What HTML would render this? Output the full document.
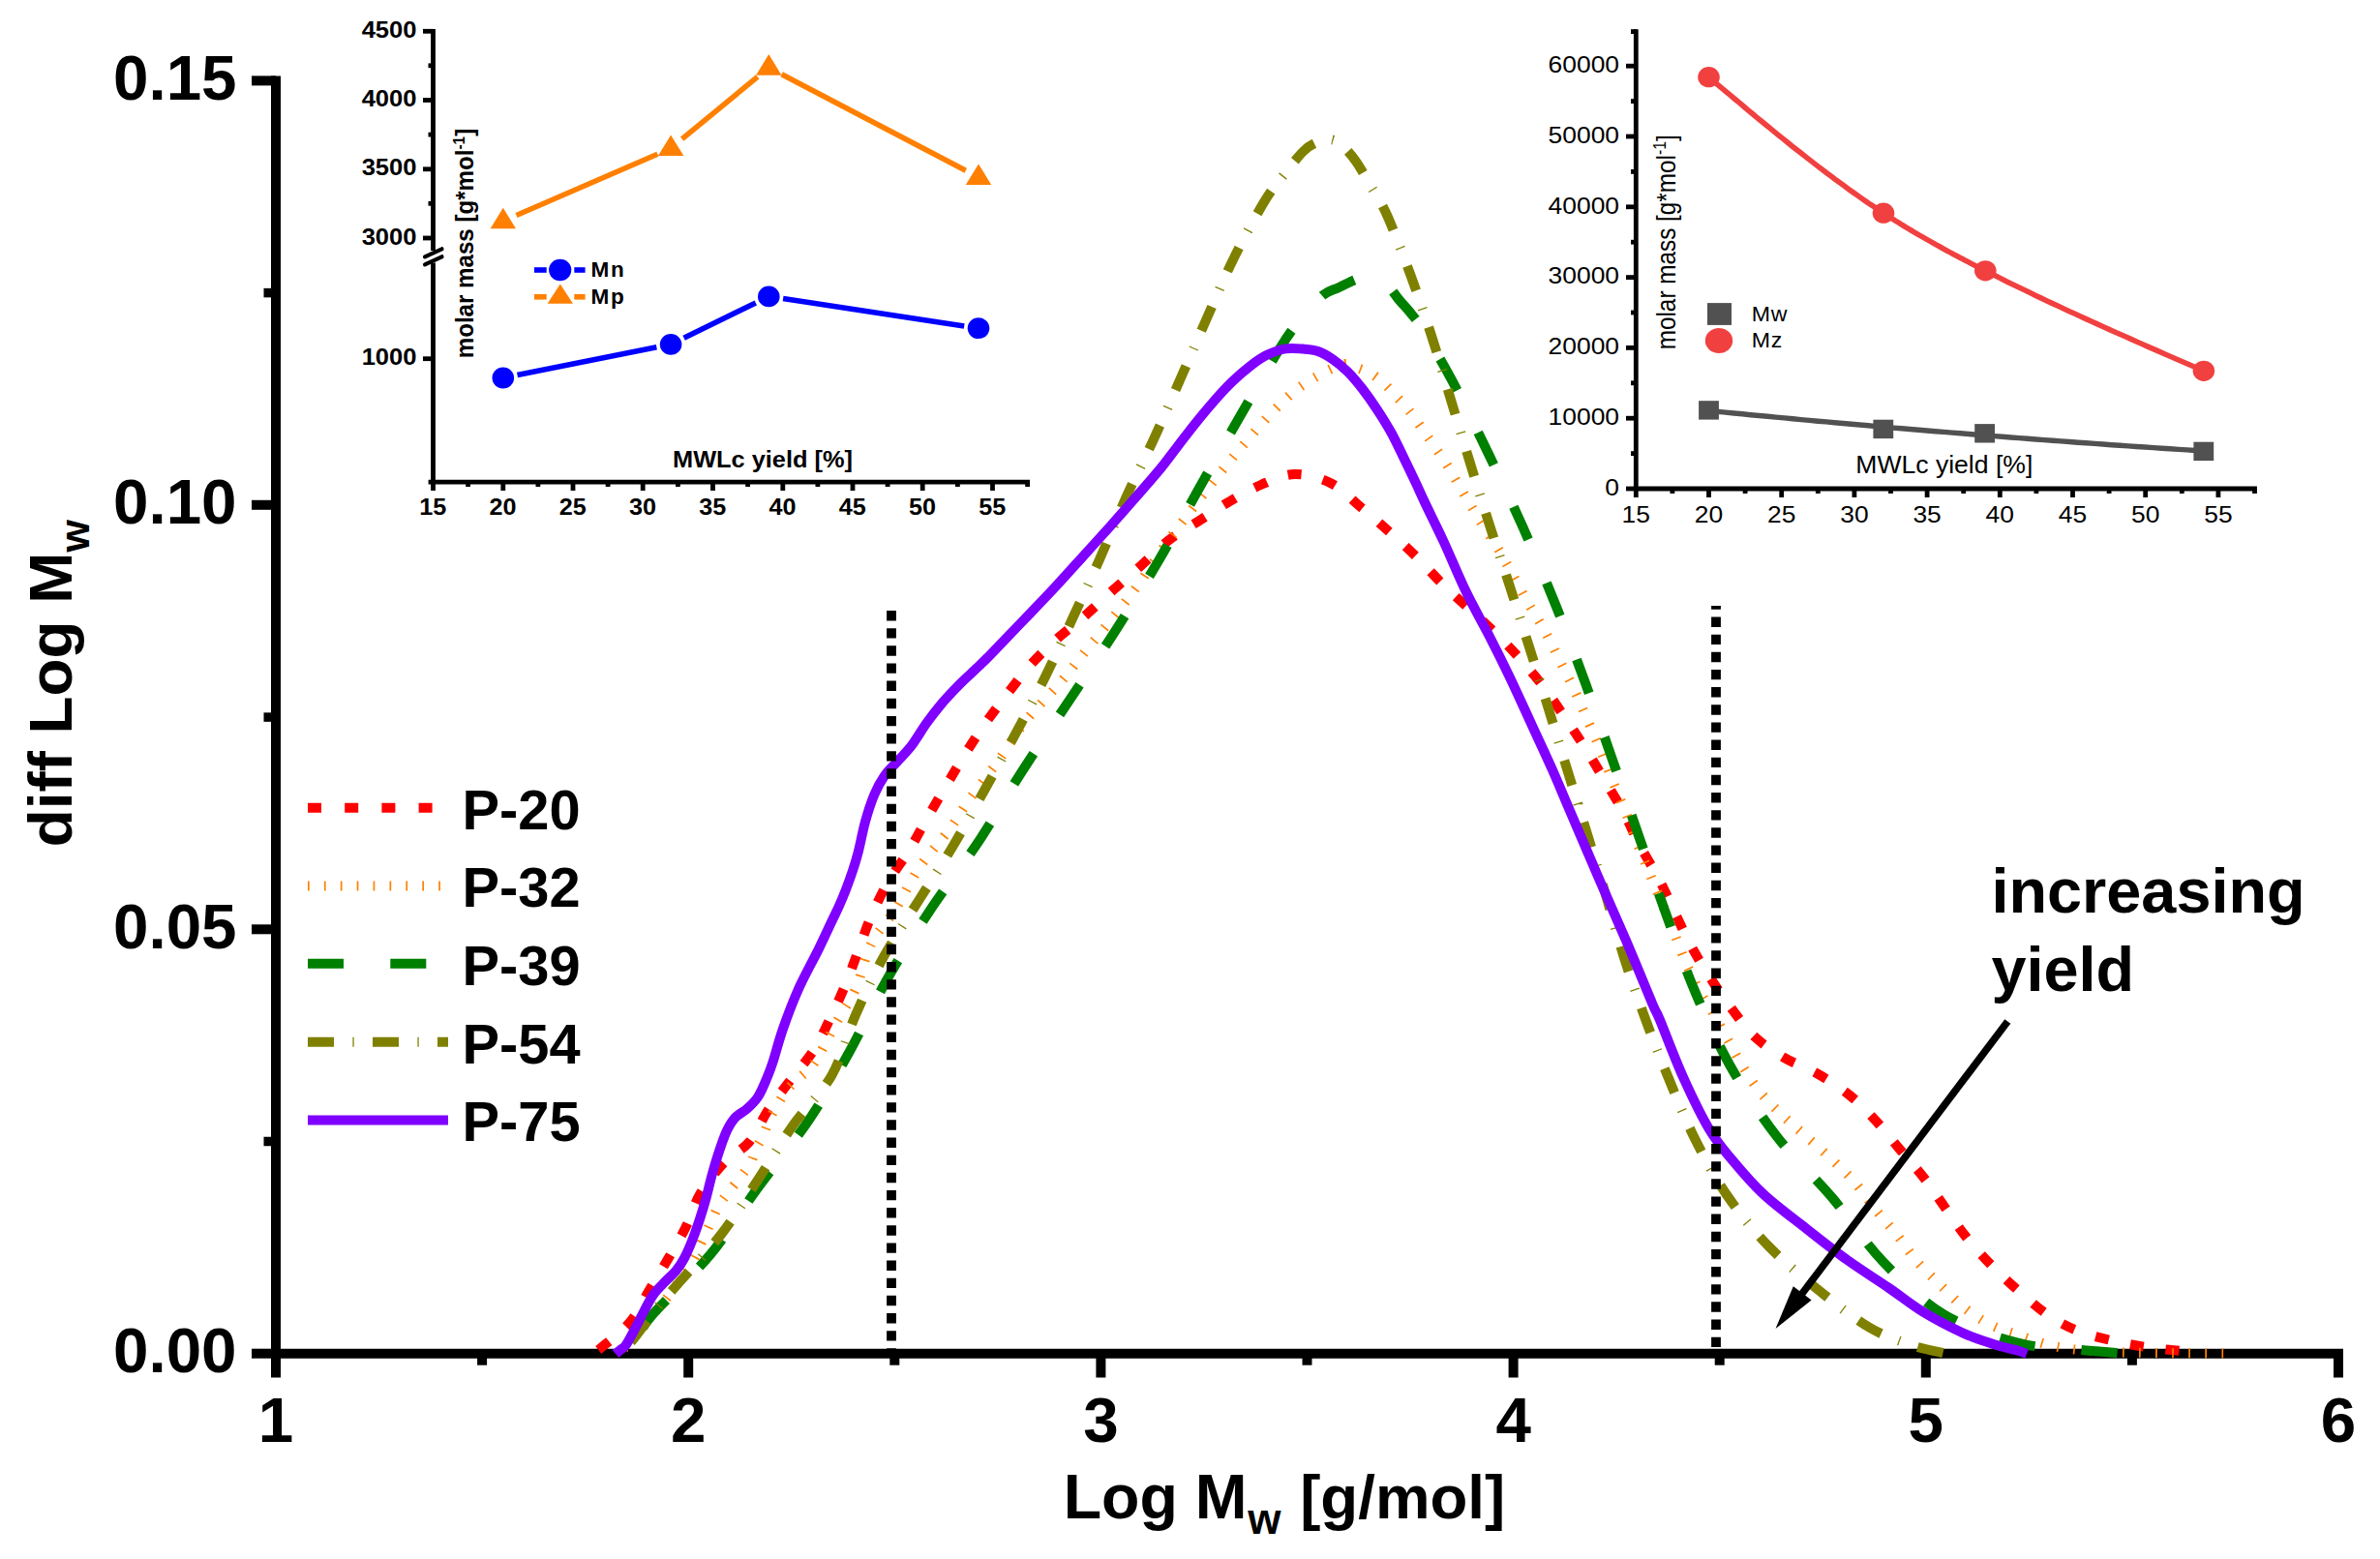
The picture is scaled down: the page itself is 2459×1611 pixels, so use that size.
<!DOCTYPE html>
<html lang="en">
<head>
<meta charset="utf-8">
<title>Molar mass distribution</title>
<style>
html,body{margin:0;padding:0;background:#fff;}
body{width:2459px;height:1611px;overflow:hidden;}
svg{display:block;}
</style>
</head>
<body>
<svg width="2459" height="1611" viewBox="0 0 2459 1611">
<rect width="2459" height="1611" fill="#fff"/>
<g id="main-axes" stroke="#000" fill="none" stroke-linecap="butt">
<line x1="285" y1="78.4" x2="285" y2="1403.7" stroke-width="10"/>
<line x1="280" y1="1398.7" x2="2421" y2="1398.7" stroke-width="10"/>
<line x1="260" y1="1398.7" x2="285" y2="1398.7" stroke-width="10"/>
<line x1="260" y1="960.3" x2="285" y2="960.3" stroke-width="10"/>
<line x1="260" y1="521.8" x2="285" y2="521.8" stroke-width="10"/>
<line x1="260" y1="83.4" x2="285" y2="83.4" stroke-width="10"/>
<line x1="272.5" y1="1179.5" x2="285" y2="1179.5" stroke-width="9.5"/>
<line x1="272.5" y1="741.1" x2="285" y2="741.1" stroke-width="9.5"/>
<line x1="272.5" y1="302.6" x2="285" y2="302.6" stroke-width="9.5"/>
<line x1="285" y1="1398.7" x2="285" y2="1423.5" stroke-width="10"/>
<line x1="711.2" y1="1398.7" x2="711.2" y2="1423.5" stroke-width="10"/>
<line x1="1137.4" y1="1398.7" x2="1137.4" y2="1423.5" stroke-width="10"/>
<line x1="1563.6" y1="1398.7" x2="1563.6" y2="1423.5" stroke-width="10"/>
<line x1="1989.8" y1="1398.7" x2="1989.8" y2="1423.5" stroke-width="10"/>
<line x1="2416" y1="1398.7" x2="2416" y2="1423.5" stroke-width="10"/>
<line x1="498.1" y1="1398.7" x2="498.1" y2="1410.7" stroke-width="10"/>
<line x1="924.3" y1="1398.7" x2="924.3" y2="1410.7" stroke-width="10"/>
<line x1="1350.5" y1="1398.7" x2="1350.5" y2="1410.7" stroke-width="10"/>
<line x1="1776.7" y1="1398.7" x2="1776.7" y2="1410.7" stroke-width="10"/>
<line x1="2202.9" y1="1398.7" x2="2202.9" y2="1410.7" stroke-width="10"/>
</g>
<g id="main-labels" style="font-family:'Liberation Sans',Arial,Helvetica,sans-serif;font-weight:bold;font-size:65.5px" fill="#000">
<text x="244.5" y="1418.3" text-anchor="end">0.00</text>
<text x="244.5" y="979.9" text-anchor="end">0.05</text>
<text x="244.5" y="541.4" text-anchor="end">0.10</text>
<text x="244.5" y="103" text-anchor="end">0.15</text>
<text x="285" y="1490" text-anchor="middle">1</text>
<text x="711.2" y="1490" text-anchor="middle">2</text>
<text x="1137.4" y="1490" text-anchor="middle">3</text>
<text x="1563.6" y="1490" text-anchor="middle">4</text>
<text x="1989.8" y="1490" text-anchor="middle">5</text>
<text x="2416" y="1490" text-anchor="middle">6</text>
</g>
<text id="xtitle" y="1569" style="font-family:'Liberation Sans',Arial,Helvetica,sans-serif;font-weight:bold;font-size:64.5px" fill="#000"><tspan x="1098.7">Log M</tspan><tspan x="1289.3" dy="16.4" style="font-size:44px">w</tspan><tspan dy="-16.4" style="font-size:32px"> </tspan><tspan x="1343.2" style="font-size:63.6px">[g/mol]</tspan></text>
<text id="ytitle" transform="translate(74,875.3) rotate(-90)" style="font-family:'Liberation Sans',Arial,Helvetica,sans-serif;font-weight:bold;font-size:63.8px" fill="#000">diff Log M<tspan dy="17.6" style="font-size:43px">w</tspan></text>
<g id="curves" fill="none" stroke-width="10" stroke-linejoin="round">
<path id="p20" stroke="#ff0000" stroke-dasharray="14 22.8" stroke-dashoffset="29" d="M612 1399C613.5 1398 614.2 1398.5 620.7 1393C627.2 1387.5 642.9 1375.8 651.3 1365.8C659.7 1355.8 664.5 1343.7 670.9 1333C677.3 1322.3 683.6 1312.2 689.9 1301.4C696.2 1290.6 703 1279.3 708.6 1268C714.2 1256.7 716.7 1245 723.3 1233.8C729.9 1222.6 739.9 1210 748.3 1201.1C756.7 1192.2 766.3 1189.3 773.9 1180.3C781.5 1171.3 786.4 1157.9 793.7 1147C801 1136.1 809.8 1125.3 817.7 1114.9C825.6 1104.5 834.2 1095.5 841 1084.8C847.8 1074.1 853 1062.2 858.4 1051C863.8 1039.8 868.8 1029 873.6 1017.4C878.4 1005.8 882.8 993.1 887.2 981.2C891.7 969.4 895.2 957.9 900.3 946.3C905.4 934.7 911.1 922.7 917.6 911.4C924.1 900.1 932.6 889.5 939.3 878.6C946 867.7 951.4 856.8 957.8 845.7C964.2 834.6 971 823 977.5 812C984 801 990 790.6 996.7 779.9C1003.4 769.2 1010.6 758.1 1017.8 747.8C1025 737.5 1032.1 728.3 1039.8 718.3C1047.5 708.3 1055.6 697.2 1064.2 687.6C1072.8 678 1082.1 669.2 1091.6 660.6C1101.1 652 1111.3 644.8 1121.1 636.2C1130.9 627.7 1141 617.9 1150.6 609.3C1160.2 600.7 1169.4 592.9 1178.9 584.4C1188.5 575.9 1198 565.6 1207.9 558C1217.8 550.4 1227.9 545.2 1238.4 538.5C1248.9 531.8 1260 524.2 1270.7 518C1281.4 511.8 1291.6 505.7 1302.8 501C1314 496.3 1325.8 490.2 1338 490C1350.2 489.8 1364.4 493.9 1375.8 499.7C1387.2 505.4 1396.5 516.2 1406.5 524.5C1416.5 532.8 1426.2 541.2 1435.6 549.6C1445 558 1454.1 566.3 1463.1 575.1C1472.1 583.9 1480.4 593.6 1489.5 602.6C1498.6 611.6 1508.2 620.1 1517.8 629C1527.4 637.9 1537.8 647 1546.9 656C1556.1 665 1564.5 674 1572.7 683.3C1580.9 692.6 1588.6 701.5 1596.2 711.6C1603.8 721.7 1611.3 733.3 1618.5 743.9C1625.7 754.5 1632.6 764.7 1639.3 775.4C1646 786.1 1652.4 797.1 1658.9 808C1665.4 818.9 1672.5 830 1678.3 840.9C1684.1 851.8 1688 861.9 1694 873.2C1700 884.5 1708.2 897.2 1714.2 908.8C1720.2 920.4 1724.8 931.3 1730.3 942.7C1735.8 954.1 1740.9 965.8 1747 977C1753.1 988.2 1759.8 999.2 1766.7 1010C1773.7 1020.8 1781 1031.6 1788.7 1041.8C1796.4 1052 1803.9 1062.9 1813 1071.4C1822.1 1079.9 1832.3 1086.5 1843.2 1092.9C1854.1 1099.3 1867.1 1103.4 1878.4 1109.9C1889.8 1116.4 1901.2 1123.8 1911.3 1132C1921.4 1140.2 1930.3 1149.7 1938.8 1158.9C1947.3 1168.1 1954.4 1177.5 1962.5 1187.2C1970.6 1196.9 1979.8 1206.8 1987.6 1216.9C1995.4 1227 2002.2 1237.5 2009.6 1247.8C2017 1258.1 2023.8 1268.8 2032 1279C2040.2 1289.2 2050 1299.8 2059 1309C2068 1318.2 2076.7 1326.2 2086.2 1334.5C2095.7 1342.8 2105.9 1352 2115.8 1358.8C2125.8 1365.5 2134.7 1370.5 2145.9 1375C2157.1 1379.5 2170.7 1382.6 2183 1385.5C2195.3 1388.4 2207.5 1390.6 2220 1392.4C2232.5 1394.2 2249.9 1395.6 2258.2 1396.4C2266.5 1397.2 2268 1397.3 2270 1397.5"/>
<path id="p32" stroke="#ff8000" stroke-dasharray="1.7 15.3" stroke-dashoffset="10" d="M640 1399C643.3 1395 651.7 1384.8 660 1375C668.3 1365.2 680.9 1351.7 690 1340C699.1 1328.3 709.1 1313.1 714.5 1304.7C719.9 1296.3 718.6 1297 722.2 1289.4C725.8 1281.8 732.7 1266.5 736.3 1258.9C739.9 1251.3 741.1 1248.3 744 1243.6C746.9 1238.9 748.7 1237.2 753.8 1230.5C758.9 1223.8 770 1210.6 774.5 1203.3C779 1196 778.7 1192 781.1 1186.9C783.5 1181.8 786.4 1177.8 788.7 1172.7C791.1 1167.6 792.8 1161.4 795.2 1156.3C797.6 1151.2 800 1147.1 802.9 1142.2C805.8 1137.3 809.1 1131.5 812.7 1126.9C816.3 1122.4 820.5 1118.9 824.7 1114.9C828.9 1110.9 834.2 1107.1 837.8 1102.9C841.4 1098.7 842 1097.8 846.5 1089.8C851 1081.8 858.8 1066.2 865 1055C871.2 1043.8 878 1035.6 883.9 1022.3C889.8 1009 893.4 988.7 900.3 975C907.1 961.3 916.8 953 925 940C933.2 927 940 911.2 949.6 897C959.2 882.8 974 866.6 982.5 855C991 843.4 992.5 838.9 1000.6 827.4C1008.8 815.9 1021.6 800 1031.4 786.3C1041.2 772.6 1049.1 758.5 1059.6 745.3C1070.1 732 1084.8 717.7 1094.2 706.8C1103.6 695.9 1108.7 688.9 1116 679.9C1123.3 670.9 1130.5 661.9 1137.8 652.9C1145.1 643.9 1152.8 634.8 1159.6 626C1166.4 617.2 1171 611.5 1178.9 600.3C1186.8 589 1198.8 570.2 1207.1 558.5C1215.4 546.8 1221.9 539.1 1228.9 529.8C1236 520.5 1242.6 511.7 1249.4 502.9C1256.2 494.1 1262.9 485.8 1270 477.2C1277.1 468.6 1284.2 460.2 1291.8 451.5C1299.4 442.8 1307.7 433 1315.7 424.8C1323.7 416.6 1331.2 408.9 1340 402.2C1348.8 395.5 1360.5 388.8 1368.8 384.4C1377.1 380 1384.3 376.8 1389.8 376C1395.3 375.2 1397.3 378 1401.9 379.8C1406.5 381.6 1412.5 383.6 1417.5 386.6C1422.5 389.6 1427.2 393.9 1431.6 397.9C1436 401.9 1439.7 406.4 1443.7 410.8C1447.7 415.2 1450.6 417.7 1455.8 424.3C1461 430.9 1468.3 441.6 1474.7 450.7C1481.1 459.8 1488 469.5 1494.1 479C1500.1 488.5 1505.2 498.1 1511 507.8C1516.8 517.5 1522.5 527.6 1528.6 537.4C1534.7 547.1 1541.6 556.6 1547.4 566.3C1553.2 575.9 1558.2 585.5 1563.6 595.3C1569 605.1 1574.4 615.3 1580 625C1585.6 634.7 1591.7 644 1597 653.7C1602.3 663.4 1606.9 673.4 1611.8 683.3C1616.7 693.2 1621.9 702.9 1626.6 713C1631.3 723.1 1635.6 733.6 1640.1 743.9C1644.6 754.2 1649.3 764.6 1653.6 774.9C1657.9 785.2 1661.5 795.3 1665.7 805.9C1670 816.5 1674.8 827.4 1679.1 838.2C1683.4 849 1687.2 860.2 1691.3 870.5C1695.3 880.8 1699.4 890.3 1703.4 900.2C1707.4 910.1 1711.2 919.5 1715.5 929.8C1719.8 940.1 1724.7 951.5 1729 962.1C1733.3 972.7 1736.6 982.8 1741.1 993.1C1745.6 1003.4 1750.4 1013.9 1755.9 1024C1761.4 1034.1 1767.1 1042 1773.9 1053.9C1780.7 1065.8 1789.6 1083.5 1796.8 1095.6C1804 1107.7 1809.6 1117.2 1817 1126.6C1824.4 1136 1833.2 1144.3 1841.3 1152.2C1849.4 1160.1 1857 1166.2 1865.5 1173.8C1874 1181.4 1884 1189.9 1892.5 1198C1901 1206.1 1909.1 1213.5 1916.7 1222.3C1924.3 1231 1931.1 1241.5 1938.3 1250.5C1945.5 1259.5 1952.6 1267.1 1959.8 1276.1C1967 1285.1 1973.8 1295.6 1981.4 1304.4C1989 1313.2 1997.5 1320.8 2005.6 1328.7C2013.7 1336.6 2021.3 1344.9 2029.8 1351.6C2038.3 1358.3 2047.4 1364.4 2056.8 1369.1C2066.2 1373.8 2075.9 1376.2 2086.4 1379.8C2096.9 1383.4 2107.8 1387.9 2120.1 1390.6C2132.4 1393.3 2143.3 1394.8 2160 1396C2176.7 1397.2 2195.7 1397.6 2220 1398C2244.3 1398.4 2291.7 1398.4 2306 1398.5"/>
<path id="p39" stroke="#008000" stroke-dasharray="37 48.3" stroke-dashoffset="49" d="M641 1399C643.3 1396.7 649.1 1392.2 655 1385C660.9 1377.8 663.2 1370.8 676.4 1356C689.6 1341.2 716.4 1317.5 734.2 1296C752 1274.5 766.2 1250.3 783.3 1227C800.4 1203.7 821.1 1179.2 836.7 1156C852.3 1132.8 863.3 1112.7 877 1088C890.7 1063.3 904.3 1033.2 918.8 1007.9C933.3 982.6 948.2 959.7 964 936.1C979.8 912.5 998 889.4 1013.3 866.2C1028.6 843 1040.6 821 1056 797C1071.4 773 1089.8 746.3 1105.8 722.2C1121.8 698.1 1136.8 676.3 1152 652.5C1167.2 628.7 1182.6 604 1197 579.5C1211.4 555 1224.5 530.2 1238.4 505.5C1252.4 480.8 1266.4 455.7 1280.7 431C1295 406.3 1312.8 375 1324 357.3C1335.2 339.6 1340.8 333.8 1348 325C1355.2 316.2 1361.7 309.3 1367.4 304.7C1373.1 300.1 1377.4 299.8 1382.4 297.4C1387.4 295 1392.6 292.3 1397.2 290.3C1401.8 288.3 1406.2 286.6 1410 285.5C1413.8 284.4 1416.5 283.1 1420 284C1423.5 284.9 1426.8 286.8 1431 291C1435.2 295.2 1440.9 304.1 1445.3 309.5C1449.7 314.9 1453.4 318.3 1457.4 323.4C1461.4 328.5 1462.3 328.4 1469.4 340C1476.5 351.6 1488.7 371.5 1500.2 393.2C1511.7 414.9 1526.1 444.5 1538.4 470C1550.7 495.5 1562.4 519.8 1574 546C1585.6 572.2 1597.4 600.6 1608 627C1618.6 653.4 1627.8 678.1 1637.4 704.3C1647 730.5 1656.4 757.6 1665.7 784.3C1675 811 1684.1 837.9 1693.4 864.6C1702.7 891.3 1711.8 918.1 1721.4 944.6C1731 971.1 1739.8 997.4 1750.8 1023.5C1761.8 1049.6 1773.3 1076 1787.4 1101C1801.5 1126 1817.8 1151.1 1835.3 1173.8C1852.8 1196.5 1874.2 1215.5 1892.5 1237.1C1910.8 1258.6 1925.7 1282.9 1945 1303.1C1964.3 1323.3 1985.2 1344.2 2008.3 1358.3C2031.4 1372.3 2061.8 1381.5 2083.7 1387.4C2105.6 1393.4 2122.6 1392.2 2140 1394C2157.4 1395.8 2180 1397.3 2188 1398"/>
<path id="p54" stroke="#808000" stroke-dasharray="27 19.4 1.3 19.3" stroke-dashoffset="49.7" d="M640 1399C642.5 1396.3 648.3 1391.2 655 1383C661.7 1374.8 672.1 1359.8 680 1350C687.9 1340.2 691.5 1337 702.5 1324.3C713.5 1311.6 732.8 1291.6 746.2 1274.1C759.6 1256.6 770.5 1238.1 782.8 1219.5C795 1200.9 806.9 1180.5 819.7 1162.4C832.5 1144.3 848.8 1129.9 859.5 1111C870.2 1092.1 875 1069.3 883.9 1049C892.8 1028.7 901.6 1009.2 912.6 989.4C923.6 969.5 937.6 949 949.6 929.9C961.6 910.8 973.2 893.5 984.5 874.5C995.8 855.5 1006.6 835.4 1017.4 816C1028.2 796.6 1038.8 777.6 1049.3 758.1C1059.8 738.6 1070.3 719 1080.1 699.1C1089.9 679.2 1098.9 659.1 1108.3 638.7C1117.7 618.4 1127.4 597.6 1136.5 577C1145.6 556.4 1153.8 535.5 1163 515C1172.2 494.6 1182.5 474.6 1191.8 454.3C1201.1 434.1 1209.8 413.9 1218.7 393.5C1227.7 373.1 1236.4 352.7 1245.5 332C1254.6 311.3 1263.5 289.9 1273.5 269.4C1283.5 248.9 1296.9 224 1305.8 209.1C1314.7 194.2 1320.1 188.8 1327 180C1333.9 171.2 1341.2 161.6 1347 156C1352.8 150.4 1357.6 148.5 1362 146.5C1366.4 144.5 1369.7 143.6 1373.5 144C1377.3 144.4 1380.5 145.3 1385 149C1389.5 152.7 1395.3 158.9 1400.5 166.1C1405.7 173.3 1410.5 182.6 1416 192C1421.5 201.4 1426.3 207.2 1433.2 222.6C1440.1 238 1449.8 263.8 1457.5 284.6C1465.2 305.4 1472.3 326.3 1479.2 347.6C1486.1 368.9 1492.3 390.9 1498.8 412.4C1505.3 433.9 1511.8 455.4 1518.4 476.8C1525 498.2 1531.6 519.5 1538.4 540.8C1545.2 562.1 1552.7 583.5 1559.5 604.5C1566.3 625.5 1572.8 645.8 1579.5 667C1586.2 688.2 1593.1 710.4 1599.7 731.8C1606.3 753.2 1612.7 774.3 1619.3 795.6C1625.9 816.9 1632.7 838.3 1639.3 859.8C1645.9 881.3 1652.5 902.9 1658.9 924.4C1665.3 945.9 1671 967.6 1677.8 989C1684.6 1010.4 1692.1 1031.6 1699.8 1052.5C1707.5 1073.4 1715.6 1093.8 1724.1 1114.5C1732.6 1135.2 1740.9 1156.3 1751 1176.5C1761.1 1196.7 1771.9 1217.1 1784.7 1235.7C1797.5 1254.3 1811.6 1271.7 1827.8 1288.3C1844 1304.9 1864.4 1321.5 1881.7 1335.4C1899 1349.3 1916 1362.7 1931.5 1371.8C1947 1380.9 1962.2 1385.6 1975 1390C1987.8 1394.4 2002.5 1396.7 2008 1398"/>
<path id="p75" stroke="#8000ff" d="M636 1399C636.8 1398.3 639.2 1396.6 641 1395C642.8 1393.4 644.4 1393.3 647 1389.5C649.6 1385.7 653.6 1377.8 656.7 1372C659.8 1366.2 662.3 1360.8 665.4 1355C668.5 1349.2 671.6 1342.6 675.3 1337.5C678.9 1332.4 683.5 1328.3 687.3 1324.3C691.1 1320.3 694.9 1317.4 698.2 1313.4C701.5 1309.4 704 1305.8 706.9 1300.3C709.8 1294.8 712.9 1287.6 715.6 1280.7C718.3 1273.8 720.9 1266.2 723.3 1258.9C725.7 1251.6 727.8 1244.4 729.8 1237.1C731.8 1229.8 733.3 1222.6 735.3 1215.3C737.3 1208 739.3 1201.1 741.8 1193.4C744.3 1185.8 747.6 1175.8 750.5 1169.4C753.4 1163.1 755.6 1159.3 759.2 1155.3C762.8 1151.3 768.3 1149.1 772.3 1145.4C776.3 1141.8 779.9 1138.5 783.2 1133.4C786.5 1128.3 789.5 1120.9 792 1114.9C794.5 1108.9 795.7 1106.2 798.5 1097.5C801.3 1088.8 804.6 1075.6 809 1063C813.4 1050.4 818.9 1035.7 825 1022C831.1 1008.3 840.1 992.4 845.7 981C851.3 969.6 855 961.4 858.5 953.9C862 946.4 864.5 941.6 867 936C869.5 930.4 871.4 926 873.7 920C876 914 878.7 906.6 880.9 900C883.1 893.4 884.6 888.6 886.8 880.2C889 871.8 891.2 859.1 893.9 849.4C896.6 839.6 899.8 829.7 903.1 821.7C906.4 813.7 910 807.2 913.9 801.6C917.8 796 921.6 792.9 926.2 787.8C930.8 782.7 936.5 777.5 941.6 770.8C946.7 764.1 951.9 754.9 957 747.7C962.1 740.5 966.8 734.4 972.4 727.7C978 721 984.7 714 990.9 707.7C997.1 701.5 1004.3 695.1 1009.4 690.2C1014.5 685.3 1017.3 682.7 1021.7 678.2C1026.1 673.8 1028.8 670.8 1035.8 663.5C1042.8 656.2 1054.4 644.2 1063.7 634.5C1073 624.8 1082.3 615.1 1091.6 605.1C1100.9 595.1 1110.2 584.6 1119.5 574.3C1128.8 564 1138.1 553.9 1147.4 543.5C1156.7 533.1 1166.5 521.9 1175.3 511.8C1184.1 501.7 1193.1 491.4 1200 483C1206.9 474.6 1210.9 468.7 1216.7 461.2C1222.5 453.7 1228.4 445.8 1234.6 438.1C1240.8 430.4 1247.5 422.3 1253.9 415C1260.3 407.7 1266.7 400.6 1273.1 394.4C1279.5 388.2 1286.4 382.3 1292.4 377.7C1298.4 373.1 1303.1 369.7 1309.1 366.8C1315.1 363.9 1322.1 361.4 1328.3 360.4C1334.5 359.4 1340.7 360.2 1346.3 360.6C1351.9 361 1356.6 361.2 1361.7 363C1366.8 364.8 1372 367.8 1377.1 371.3C1382.2 374.8 1387.4 379.1 1392.5 384.2C1397.6 389.3 1402.8 395.5 1407.9 402.1C1413 408.7 1418.4 416.4 1423.3 423.9C1428.2 431.4 1432.9 438.9 1437.4 447C1441.9 455.1 1445.9 463.9 1450.2 472.7C1454.5 481.5 1459.5 492 1463.1 499.7C1466.7 507.4 1467.3 509 1472 519C1476.7 529 1484.3 544 1491.5 559.5C1498.7 575 1507.2 595.9 1515 612C1522.8 628.1 1530.8 641.8 1538.2 656.2C1545.6 670.6 1551.9 683.2 1559.3 698.6C1566.7 714 1575 732.6 1582.4 748.6C1589.8 764.6 1597.2 780.3 1603.6 794.8C1610 809.3 1613.1 817 1621 835.5C1628.9 854 1641.1 882.7 1651 905.6C1660.9 928.5 1671.1 951 1680.5 973C1689.9 995 1701.7 1024.1 1707.4 1037.6C1713.2 1051.1 1709.7 1041.4 1715 1054C1720.3 1066.6 1730.5 1094.2 1739 1113C1747.5 1131.8 1757.5 1152.7 1766 1167C1774.5 1181.3 1780.7 1187.8 1790 1199C1799.3 1210.2 1809.4 1222.3 1822 1234C1834.6 1245.7 1851.1 1257.7 1865.5 1269C1879.9 1280.3 1894.2 1291.7 1908.6 1302C1923 1312.3 1938.7 1322.1 1951.7 1331C1964.7 1339.9 1974.2 1347.9 1986.7 1355.6C1999.2 1363.3 2014.9 1371.4 2027 1377C2039.1 1382.6 2049.7 1385.8 2059.5 1389C2069.3 1392.2 2080.2 1394.3 2086 1396C2091.8 1397.7 2092.7 1398.5 2094 1399"/>
</g>
<g id="vlines" stroke="#000" stroke-width="9.8" stroke-dasharray="10.4 7.75" fill="none">
<line x1="921" y1="631" x2="921" y2="1394" />
<line x1="1773" y1="626" x2="1773" y2="1394" stroke-dashoffset="6.65"/>
</g>
<g id="legend" fill="none" stroke-width="10">
<line x1="318" y1="834.8" x2="463" y2="834.8" stroke="#ff0000" stroke-dasharray="14 24.2"/>
<line x1="318" y1="915.5" x2="463" y2="915.5" stroke="#ff8000" stroke-dasharray="1.7 15.2"/>
<line x1="318" y1="995.8" x2="463" y2="995.8" stroke="#008000" stroke-dasharray="37 48.3"/>
<line x1="318" y1="1076.8" x2="463" y2="1076.8" stroke="#808000" stroke-dasharray="27 19.4 1.3 19.3"/>
<line x1="318" y1="1157.5" x2="463" y2="1157.5" stroke="#8000ff"/>
</g>
<g id="legend-text" style="font-family:'Liberation Sans',Arial,Helvetica,sans-serif;font-weight:bold;font-size:57.8px" fill="#000">
<text x="477.5" y="856.5">P-20</text>
<text x="477.5" y="937.2">P-32</text>
<text x="477.5" y="1017.5">P-39</text>
<text x="477.5" y="1098.5">P-54</text>
<text x="477.5" y="1179.2">P-75</text>
</g>
<g id="annot" style="font-family:'Liberation Sans',Arial,Helvetica,sans-serif;font-weight:bold;font-size:64.8px" fill="#000">
<text x="2057.5" y="943">increasing</text>
<text x="2057.5" y="1024">yield</text>
</g>
<line x1="2074.3" y1="1055.4" x2="1861" y2="1338" stroke="#000" stroke-width="7.5"/>
<polygon fill="#000" points="1834.5,1373.1 1852.8,1329.3 1871.6,1343.5"/>
<g id="inset1">
<g stroke="#000" fill="none" stroke-width="4.8">
<line x1="447.5" y1="30" x2="447.5" y2="500.6"/>
<line x1="442.6" y1="498.2" x2="1064" y2="498.2"/>
<line x1="447.5" y1="498.2" x2="447.5" y2="507"/>
<line x1="519.8" y1="498.2" x2="519.8" y2="507"/>
<line x1="592" y1="498.2" x2="592" y2="507"/>
<line x1="664.2" y1="498.2" x2="664.2" y2="507"/>
<line x1="736.5" y1="498.2" x2="736.5" y2="507"/>
<line x1="808.8" y1="498.2" x2="808.8" y2="507"/>
<line x1="881" y1="498.2" x2="881" y2="507"/>
<line x1="953.2" y1="498.2" x2="953.2" y2="507"/>
<line x1="1025.5" y1="498.2" x2="1025.5" y2="507"/>
<line x1="483.6" y1="498.2" x2="483.6" y2="503"/>
<line x1="555.9" y1="498.2" x2="555.9" y2="503"/>
<line x1="628.1" y1="498.2" x2="628.1" y2="503"/>
<line x1="700.4" y1="498.2" x2="700.4" y2="503"/>
<line x1="772.6" y1="498.2" x2="772.6" y2="503"/>
<line x1="844.9" y1="498.2" x2="844.9" y2="503"/>
<line x1="917.1" y1="498.2" x2="917.1" y2="503"/>
<line x1="989.4" y1="498.2" x2="989.4" y2="503"/>
<line x1="1061.6" y1="498.2" x2="1061.6" y2="503"/>
<line x1="437" y1="32.3" x2="447.5" y2="32.3"/>
<line x1="437" y1="103.5" x2="447.5" y2="103.5"/>
<line x1="437" y1="174.8" x2="447.5" y2="174.8"/>
<line x1="437" y1="246" x2="447.5" y2="246"/>
<line x1="437" y1="370.7" x2="447.5" y2="370.7"/>
<line x1="442.5" y1="67.8" x2="447.5" y2="67.8"/>
<line x1="442.5" y1="139.1" x2="447.5" y2="139.1"/>
<line x1="442.5" y1="210.3" x2="447.5" y2="210.3"/>
</g>
<rect x="443" y="259" width="10" height="12.5" fill="#fff"/>
<g stroke="#000" stroke-width="4.2" stroke-linecap="round"><line x1="439" y1="265.3" x2="456.5" y2="257.3"/><line x1="439" y1="273.3" x2="456.5" y2="265.3"/></g>
<g style="font-family:'Liberation Sans',Arial,Helvetica,sans-serif;font-weight:bold;font-size:24px" fill="#000">
<text transform="translate(430.5,38.9) scale(1.065,1)" text-anchor="end">4500</text>
<text transform="translate(430.5,110.1) scale(1.065,1)" text-anchor="end">4000</text>
<text transform="translate(430.5,181.4) scale(1.065,1)" text-anchor="end">3500</text>
<text transform="translate(430.5,252.6) scale(1.065,1)" text-anchor="end">3000</text>
<text transform="translate(430.5,377.3) scale(1.065,1)" text-anchor="end">1000</text>
<text transform="translate(447.2,532.3) scale(1.05,1)" text-anchor="middle">15</text>
<text transform="translate(519.5,532.3) scale(1.05,1)" text-anchor="middle">20</text>
<text transform="translate(591.7,532.3) scale(1.05,1)" text-anchor="middle">25</text>
<text transform="translate(664,532.3) scale(1.05,1)" text-anchor="middle">30</text>
<text transform="translate(736.2,532.3) scale(1.05,1)" text-anchor="middle">35</text>
<text transform="translate(808.5,532.3) scale(1.05,1)" text-anchor="middle">40</text>
<text transform="translate(880.7,532.3) scale(1.05,1)" text-anchor="middle">45</text>
<text transform="translate(953,532.3) scale(1.05,1)" text-anchor="middle">50</text>
<text transform="translate(1025.2,532.3) scale(1.05,1)" text-anchor="middle">55</text>
<text x="695" y="482.8" textLength="186" lengthAdjust="spacingAndGlyphs" style="font-size:23.3px">MWLc yield [%]</text>
<text transform="translate(489.3,370.3) scale(1.19,1) rotate(-90)" textLength="237.5" lengthAdjust="spacingAndGlyphs" style="font-size:22px">molar mass [g*mol<tspan dy="-7.5" style="font-size:14px">-1</tspan><tspan dy="7.5">]</tspan></text>
<text transform="translate(610.5,286.3) scale(1.05,1)" style="font-size:21.5px;letter-spacing:1.6px">Mn</text>
<text transform="translate(610.5,313.8) scale(1.05,1)" style="font-size:21.5px;letter-spacing:1.6px">Mp</text>
</g>
<g stroke="#ff8000" stroke-width="5.6" fill="none"><line x1="533.5" y1="222.5" x2="679.4" y2="159.2"/><line x1="704.7" y1="143.7" x2="782.7" y2="79.4"/><line x1="807.6" y1="76.8" x2="997.8" y2="176.3"/></g>
<g stroke="#0000ff" stroke-width="5.6" fill="none"><line x1="534.5" y1="387.6" x2="678.4" y2="358.8"/><line x1="706.6" y1="349.3" x2="780.8" y2="313"/><line x1="809.1" y1="308.6" x2="996.2" y2="337"/></g>
<polygon fill="#ff8000" points="519.8,214.7 506.6,236.3 533,236.3"/>
<polygon fill="#ff8000" points="693.1,139.4 679.9,161 706.4,161"/>
<polygon fill="#ff8000" points="794.3,56.1 781.1,77.7 807.5,77.7"/>
<polygon fill="#ff8000" points="1011,169.4 997.8,191 1024.2,191"/>
<ellipse cx="519.8" cy="390.5" rx="11.3" ry="10.9" fill="#0000ff"/>
<ellipse cx="693.1" cy="355.9" rx="11.3" ry="10.9" fill="#0000ff"/>
<ellipse cx="794.3" cy="306.4" rx="11.3" ry="10.9" fill="#0000ff"/>
<ellipse cx="1011" cy="339.2" rx="11.3" ry="10.9" fill="#0000ff"/>
<g stroke-width="5.6" fill="none"><line x1="552" y1="279" x2="564.7" y2="279" stroke="#0000ff"/><line x1="593.3" y1="279" x2="604.6" y2="279" stroke="#0000ff"/><line x1="552" y1="306.8" x2="564.7" y2="306.8" stroke="#ff8000"/><line x1="593.3" y1="306.8" x2="604.6" y2="306.8" stroke="#ff8000"/></g>
<ellipse cx="578.7" cy="279" rx="11.6" ry="11.2" fill="#0000ff"/>
<polygon fill="#ff8000" points="578.8,293.4 565.6,313.8 592,313.8"/>
</g>
<g id="inset2">
<g stroke="#000" fill="none" stroke-width="4.8">
<line x1="1690.3" y1="30.2" x2="1690.3" y2="507.4"/>
<line x1="1687.9" y1="505" x2="2331.9" y2="505"/>
<line x1="1690.3" y1="505" x2="1690.3" y2="514"/>
<line x1="1765.5" y1="505" x2="1765.5" y2="514"/>
<line x1="1840.7" y1="505" x2="1840.7" y2="514"/>
<line x1="1915.9" y1="505" x2="1915.9" y2="514"/>
<line x1="1991.1" y1="505" x2="1991.1" y2="514"/>
<line x1="2066.3" y1="505" x2="2066.3" y2="514"/>
<line x1="2141.5" y1="505" x2="2141.5" y2="514"/>
<line x1="2216.7" y1="505" x2="2216.7" y2="514"/>
<line x1="2291.9" y1="505" x2="2291.9" y2="514"/>
<line x1="1727.9" y1="505" x2="1727.9" y2="510"/>
<line x1="1803.1" y1="505" x2="1803.1" y2="510"/>
<line x1="1878.3" y1="505" x2="1878.3" y2="510"/>
<line x1="1953.5" y1="505" x2="1953.5" y2="510"/>
<line x1="2028.7" y1="505" x2="2028.7" y2="510"/>
<line x1="2103.9" y1="505" x2="2103.9" y2="510"/>
<line x1="2179.1" y1="505" x2="2179.1" y2="510"/>
<line x1="2254.3" y1="505" x2="2254.3" y2="510"/>
<line x1="2329.5" y1="505" x2="2329.5" y2="510"/>
<line x1="1680" y1="505" x2="1690.3" y2="505"/>
<line x1="1680" y1="432.2" x2="1690.3" y2="432.2"/>
<line x1="1680" y1="359.4" x2="1690.3" y2="359.4"/>
<line x1="1680" y1="286.6" x2="1690.3" y2="286.6"/>
<line x1="1680" y1="213.8" x2="1690.3" y2="213.8"/>
<line x1="1680" y1="141" x2="1690.3" y2="141"/>
<line x1="1680" y1="68.2" x2="1690.3" y2="68.2"/>
<line x1="1685" y1="468.6" x2="1690.3" y2="468.6"/>
<line x1="1685" y1="395.8" x2="1690.3" y2="395.8"/>
<line x1="1685" y1="323" x2="1690.3" y2="323"/>
<line x1="1685" y1="250.2" x2="1690.3" y2="250.2"/>
<line x1="1685" y1="177.4" x2="1690.3" y2="177.4"/>
<line x1="1685" y1="104.6" x2="1690.3" y2="104.6"/>
<line x1="1685" y1="32.6" x2="1690.3" y2="32.6"/>
</g>
<g style="font-family:'Liberation Sans',Arial,Helvetica,sans-serif;font-size:24px" fill="#000">
<text transform="translate(1673,511.8) scale(1.1,1)" text-anchor="end">0</text>
<text transform="translate(1673,439) scale(1.1,1)" text-anchor="end">10000</text>
<text transform="translate(1673,366.2) scale(1.1,1)" text-anchor="end">20000</text>
<text transform="translate(1673,293.4) scale(1.1,1)" text-anchor="end">30000</text>
<text transform="translate(1673,220.6) scale(1.1,1)" text-anchor="end">40000</text>
<text transform="translate(1673,147.8) scale(1.1,1)" text-anchor="end">50000</text>
<text transform="translate(1673,75) scale(1.1,1)" text-anchor="end">60000</text>
<text transform="translate(1690.3,540) scale(1.1,1)" text-anchor="middle">15</text>
<text transform="translate(1765.5,540) scale(1.1,1)" text-anchor="middle">20</text>
<text transform="translate(1840.7,540) scale(1.1,1)" text-anchor="middle">25</text>
<text transform="translate(1915.9,540) scale(1.1,1)" text-anchor="middle">30</text>
<text transform="translate(1991.1,540) scale(1.1,1)" text-anchor="middle">35</text>
<text transform="translate(2066.3,540) scale(1.1,1)" text-anchor="middle">40</text>
<text transform="translate(2141.5,540) scale(1.1,1)" text-anchor="middle">45</text>
<text transform="translate(2216.7,540) scale(1.1,1)" text-anchor="middle">50</text>
<text transform="translate(2291.9,540) scale(1.1,1)" text-anchor="middle">55</text>
<text x="1917.3" y="488.8" textLength="183" lengthAdjust="spacingAndGlyphs" style="font-size:25px">MWLc yield [%]</text>
<text transform="translate(1731,361.3) scale(1.17,1) rotate(-90)" textLength="222" lengthAdjust="spacingAndGlyphs" style="font-size:24px">molar mass [g*mol<tspan dy="-8.5" style="font-size:15.5px">-1</tspan><tspan dy="8.5">]</tspan></text>
<text transform="translate(1809.8,331.8) scale(1.05,1)" style="font-size:22px;letter-spacing:0.8px">Mw</text>
<text transform="translate(1809.8,358.9) scale(1.05,1)" style="font-size:22px;letter-spacing:0.8px">Mz</text>
</g>
<path d="M1765.5 79.7L1770 83.5L1774.5 87.3L1779 91.1L1783.5 94.9L1788.1 98.7L1792.6 102.5L1797.1 106.2L1801.6 110L1806.1 113.8L1810.6 117.5L1815.1 121.3L1819.6 125L1824.2 128.7L1828.7 132.4L1833.2 136.1L1837.7 139.8L1842.2 143.4L1846.7 147L1851.2 150.7L1855.7 154.2L1860.3 157.8L1864.8 161.4L1869.3 164.9L1873.8 168.4L1878.3 171.9L1882.8 175.3L1887.3 178.8L1891.8 182.1L1896.3 185.5L1900.9 188.8L1905.4 192.1L1909.9 195.4L1914.4 198.6L1918.9 201.8L1923.4 205L1927.9 208.1L1932.4 211.2L1937 214.2L1941.5 217.2L1946 220.2L1948.6 221.9L1951.2 223.6L1953.9 225.3L1956.5 226.9L1959.1 228.6L1961.8 230.2L1964.4 231.9L1967 233.5L1969.7 235.1L1972.3 236.7L1974.9 238.2L1977.6 239.8L1980.2 241.3L1982.8 242.9L1985.5 244.4L1988.1 245.9L1990.7 247.4L1993.4 248.9L1996 250.4L1998.6 251.9L2001.3 253.4L2003.9 254.8L2006.5 256.3L2009.1 257.7L2011.8 259.2L2014.4 260.6L2017 262L2019.7 263.4L2022.3 264.8L2024.9 266.2L2027.6 267.6L2030.2 269L2032.8 270.3L2035.5 271.7L2038.1 273.1L2040.7 274.4L2043.4 275.8L2046 277.1L2048.6 278.5L2051.3 279.8L2057 282.7L2062.8 285.6L2068.6 288.5L2074.4 291.4L2080.2 294.2L2086 297L2091.8 299.8L2097.5 302.6L2103.3 305.4L2109.1 308.1L2114.9 310.9L2120.7 313.6L2126.5 316.3L2132.2 319L2138 321.7L2143.8 324.3L2149.6 327L2155.4 329.6L2161.2 332.3L2167 334.9L2172.7 337.5L2178.5 340.1L2184.3 342.7L2190.1 345.3L2195.9 347.8L2201.7 350.4L2207.4 353L2213.2 355.5L2219 358.1L2224.8 360.6L2230.6 363.1L2236.4 365.7L2242.2 368.2L2247.9 370.7L2253.7 373.2L2259.5 375.8L2265.3 378.3L2271.1 380.8L2276.9 383.3" stroke="#f14040" stroke-width="5.6" fill="none"/>
<path d="M1765.5 424.4L1774.2 425.3L1782.8 426.1L1791.5 427L1800.2 427.8L1808.8 428.7L1817.5 429.5L1826.2 430.3L1834.8 431.1L1843.5 431.9L1852.2 432.8L1860.8 433.6L1869.5 434.4L1878.2 435.2L1886.8 435.9L1895.5 436.7L1904.2 437.5L1912.8 438.3L1921.5 439L1930.2 439.8L1938.8 440.6L1947.5 441.3L1956.2 442.1L1964.8 442.8L1973.5 443.5L1982.2 444.3L1990.8 445L1999.5 445.7L2008.2 446.4L2016.8 447.1L2025.5 447.8L2034.1 448.5L2042.8 449.2L2051.5 449.9L2060.1 450.6L2068.8 451.3L2077.5 452L2086.1 452.6L2094.8 453.3L2103.5 454L2112.1 454.6L2120.8 455.3L2129.5 455.9L2138.1 456.5L2146.8 457.2L2155.5 457.8L2164.1 458.4L2172.8 459L2181.5 459.7L2190.1 460.3L2198.8 460.9L2207.5 461.5L2216.1 462L2224.8 462.6L2233.5 463.2L2242.1 463.8L2250.8 464.4L2259.5 464.9L2268.1 465.5L2276.8 466" stroke="#515151" stroke-width="5.4" fill="none"/>
<ellipse cx="1765.5" cy="79.7" rx="11.3" ry="10.6" fill="#f14040"/>
<ellipse cx="1946" cy="220.2" rx="11.3" ry="10.6" fill="#f14040"/>
<ellipse cx="2051.3" cy="279.8" rx="11.3" ry="10.6" fill="#f14040"/>
<ellipse cx="2276.9" cy="383.3" rx="11.3" ry="10.6" fill="#f14040"/>
<rect x="1755.1" y="414.2" width="20.8" height="19.4" fill="#515151"/>
<rect x="1935.4" y="433.7" width="20.8" height="19.4" fill="#515151"/>
<rect x="2040.2" y="438.1" width="20.8" height="19.4" fill="#515151"/>
<rect x="2266.4" y="456.7" width="20.8" height="19.4" fill="#515151"/>
<rect x="1764" y="313.1" width="25" height="22.8" fill="#515151"/>
<ellipse cx="1776" cy="352" rx="14.2" ry="13" fill="#f14040"/>
</g>
</svg>
</body>
</html>
